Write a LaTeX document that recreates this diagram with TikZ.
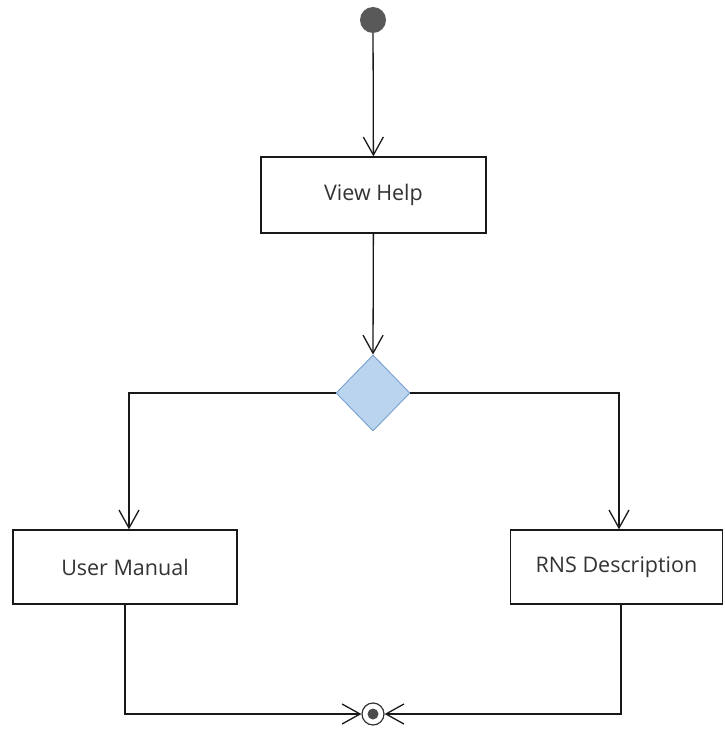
\documentclass[tikz,border=0pt]{standalone}
\usepackage{fontspec}
\setmainfont{Open Sans}
\usetikzlibrary{arrows.meta,shapes.geometric}
\begin{document}
\begin{tikzpicture}[x=1pt,y=-1pt,
  flow/.style={line width=1.3pt,draw=black!90,-{Straight Barb[length=18pt,width=20pt]}},
  action/.style={draw=black!90,line width=1.3pt,fill=white,rectangle,inner sep=0pt,font=\fontsize{21.5}{24}\selectfont,text=black!80},
  decision/.style={diamond,draw={rgb,255:red,120;green,160;blue,210},fill={rgb,255:red,186;green,212;blue,238},line width=0.9pt,inner sep=0pt,minimum width=74pt,minimum height=76pt,aspect=1},
  startnode/.style={circle,fill=black!65,inner sep=0pt,minimum size=26pt},
]
\useasboundingbox (0,0) rectangle (724,754);
\node[startnode] (start) at (373,20) {};
\node[action,minimum width=225pt,minimum height=76pt] (help) at (373.5,195) {View Help};
\node[decision] (dec) at (373,393) {};
\node[action,minimum width=224pt,minimum height=74pt] (manual) at (125,567) {User Manual};
\node[action,minimum width=212pt,minimum height=74pt] (rns) at (616.5,567) {RNS Description};
\node[circle,draw=black!80,line width=1.2pt,fill=white,inner sep=0pt,minimum size=22pt] (end) at (373,714) {};
\node[circle,fill=black!70,inner sep=0pt,minimum size=11pt] (endin) at (end.center) {};
\coordinate (lm) at (129,393);
\coordinate (rm) at (619,393);
\coordinate (lb) at (125,714);
\coordinate (rb) at (621,714);
\draw[flow] (start) -- (help);
\draw[flow] (help) -- (dec.north);
\draw[flow] (dec.west) -- (lm) -- (lm |- manual.north);
\draw[flow] (dec.east) -- (rm) -- (rm |- rns.north);
\draw[flow] (manual.south) -- (lb) -- (end.west);
\draw[flow] (rb |- rns.south) -- (rb) -- (end.east);
\end{tikzpicture}
\end{document}
